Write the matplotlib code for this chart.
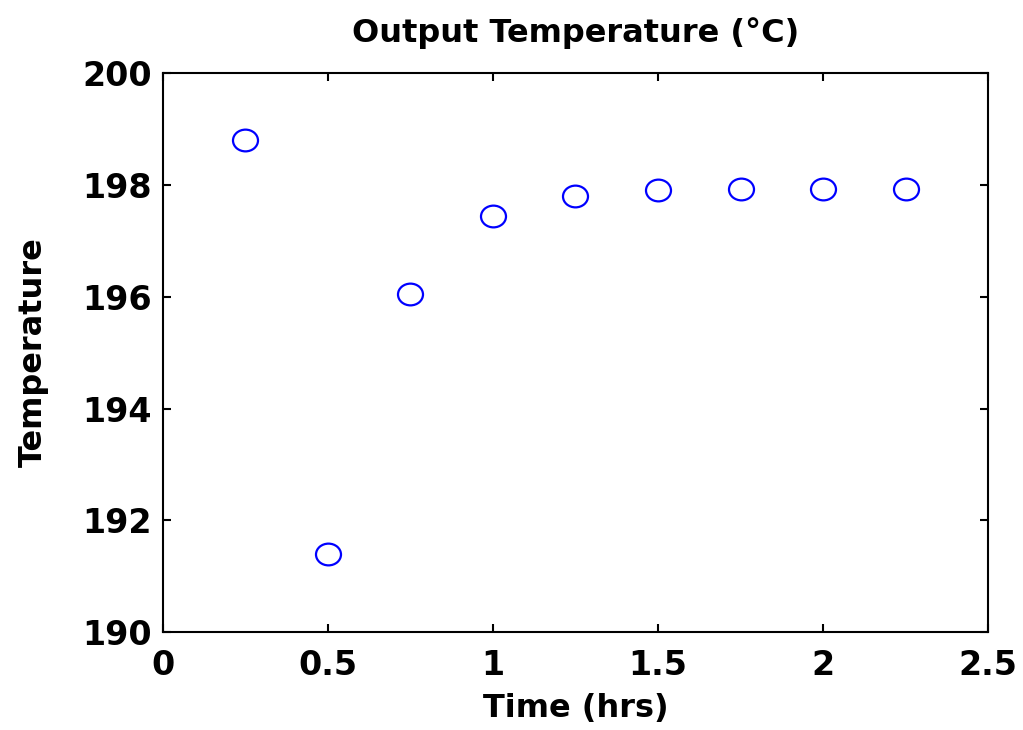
import matplotlib
matplotlib.use('Agg')
import matplotlib.pyplot as plt
from matplotlib.path import Path

plt.rcParams['font.family'] = ['DejaVu Sans']
plt.rcParams['font.weight'] = 'bold'

time_hrs = [0.25, 0.5, 0.75, 1.0, 1.25, 1.5, 1.75, 2.0, 2.25]
temperature = [198.8, 191.4, 196.05, 197.45, 197.8, 197.9, 197.92, 197.92, 197.92]

# slightly wide circle, like the stretched matlab marker
circ = Path.unit_circle()
ellipse = Path(circ.vertices * [1.15, 1.0], circ.codes)

fig = plt.figure(figsize=(10.23, 7.3), dpi=100)
ax = fig.add_axes([0.159, 0.134, 0.807, 0.766])

ax.plot(time_hrs, temperature, ls='none', marker=ellipse, mfc='none', mec='blue', ms=18, mew=1.6)

ax.set_xlim(0, 2.5)
ax.set_ylim(190, 200)
ax.set_xticks([0, 0.5, 1, 1.5, 2, 2.5])
ax.set_xticklabels(['0', '0.5', '1', '1.5', '2', '2.5'])
ax.set_yticks([190, 192, 194, 196, 198, 200])
ax.tick_params(direction='in', length=6, width=1.5, labelsize=24, top=True, right=True)
ax.tick_params(axis='x', pad=12)
ax.tick_params(axis='y', pad=8)
for s in ax.spines.values():
    s.set_linewidth(1.5)

ax.set_title('Output Temperature (\u00b0C)', fontsize=23, fontweight='bold', pad=22)
ax.set_xlabel('Time (hrs)', fontsize=23, fontweight='bold', labelpad=8)
ax.set_ylabel('Temperature', fontsize=23, fontweight='bold', labelpad=24)

fig.savefig('out.png', dpi=100)
